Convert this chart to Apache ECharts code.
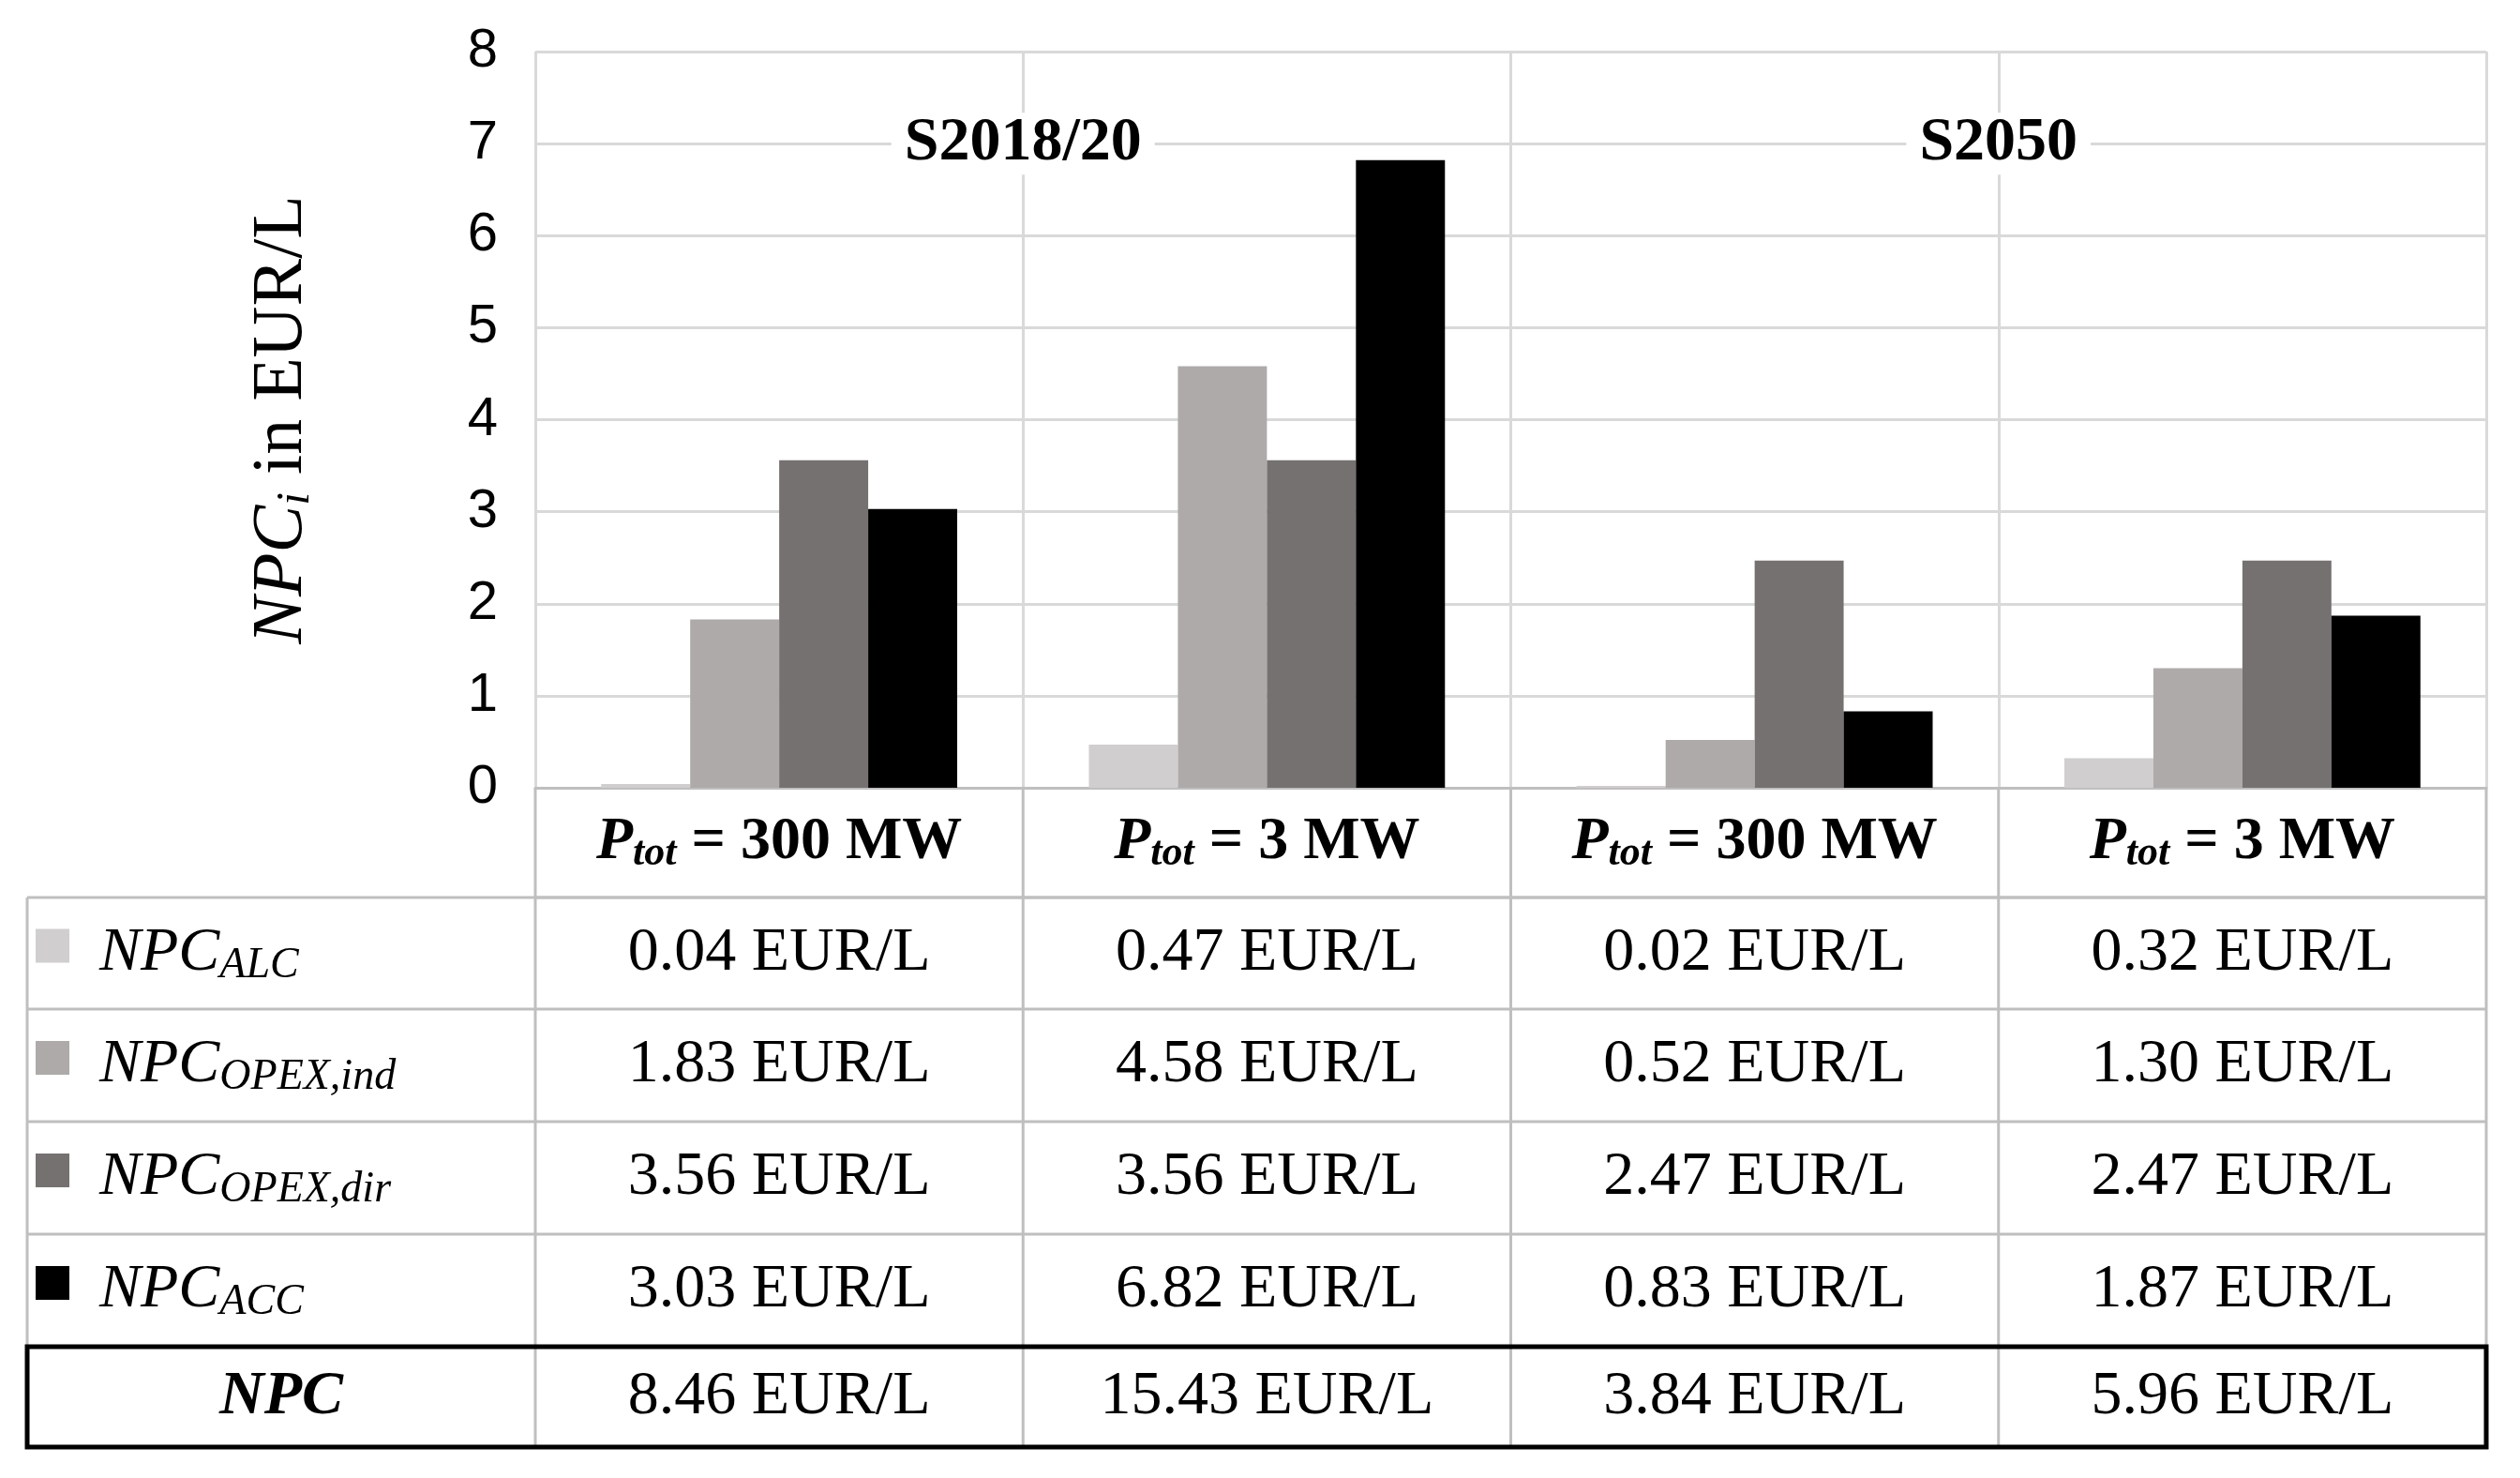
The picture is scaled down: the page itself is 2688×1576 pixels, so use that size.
<!DOCTYPE html>
<html><head><meta charset="utf-8">
<script src="https://cdn.jsdelivr.net/npm/echarts@6/dist/echarts.min.js"></script>
<style>html,body{margin:0;padding:0;background:#fff}#c{width:2688px;height:1576px}</style>
</head><body><div id="c"></div>
<script>
const categories = ['300 MW', '3 MW', '300 MW', '3 MW'];
const groups = ['S2018/20', 'S2050'];
const seriesNames = ['ALC', 'OPEX,ind', 'OPEX,dir', 'ACC'];
const ALC = [0.04, 0.47, 0.02, 0.32];
const OPEXind = [1.83, 4.58, 0.52, 1.30];
const OPEXdir = [3.56, 3.56, 2.47, 2.47];
const ACC = [3.03, 6.82, 0.83, 1.87];
const NPC = [8.46, 15.43, 3.84, 5.96];
const colors = ['#d0cece', '#aeaaaa', '#767171', '#000000'];
const values = [ALC, OPEXind, OPEXdir, ACC];

const chart = echarts.init(document.getElementById('c'));
const serif = '"Liberation Serif","DejaVu Serif",serif';
chart.setOption({
  animation: false,
  backgroundColor: '#fff',
  grid: {left: 571, right: 36, top: 55, bottom: 736},
  xAxis: {type: 'category', data: categories,
    axisLine: {show: true, lineStyle: {color: '#bfbfbf', width: 3}},
    axisTick: {show: false}, axisLabel: {show: false},
    splitLine: {show: true, lineStyle: {color: '#d9d9d9', width: 3}}},
  yAxis: {type: 'value', min: 0, max: 8, interval: 1,
    axisLine: {show: false}, axisTick: {show: false},
    axisLabel: {fontSize: 58, color: '#000', fontFamily: '"Liberation Sans",sans-serif', margin: 40},
    splitLine: {lineStyle: {color: '#d9d9d9', width: 3}},
    name: '{i|NPC}{s|i}{n| in EUR/L}', nameLocation: 'middle', nameGap: 230, nameRotate: 90,
    nameTextStyle: {rich: {
      i: {fontSize: 76, fontStyle: 'italic', fontFamily: serif, color: '#000'},
      s: {fontSize: 50, fontStyle: 'italic', fontFamily: serif, color: '#000', verticalAlign: 'bottom', padding: [30,0,0,0]},
      n: {fontSize: 76, fontFamily: serif, color: '#000'}}}},
  series: values.map((v, k) => ({type: 'bar', name: seriesNames[k], data: v,
    itemStyle: {color: colors[k]}, barGap: '0%', barCategoryGap: '27%'}))
});

const px = (i, y) => chart.convertToPixel({gridIndex: 0}, [i, y]);
const c0 = px(0, 0), c1 = px(1, 0);
const step = c1[0] - c0[0];
const bounds = [0,1,2,3,4].map(i => c0[0] - step/2 + i*step);
const y0 = c0[1];
const y7 = px(0, 7)[1];
const rows = [y0, 957, 1076, 1196, 1316, 1436, 1543];
const leftX = 29;
const g = [];
const line = (x1,y1,x2,y2,col,w) => g.push({type:'line', shape:{x1,y1,x2,y2}, style:{stroke:col, lineWidth:w}, z:10});
const gray = '#bfbfbf';
// group labels
groups.forEach((t, j) => g.push({type:'text', x: bounds[1 + 2*j], y: y7, z: 20,
  style:{text: t, fontSize: 66, fontWeight: 'bold', fontFamily: serif, fill:'#000',
  align:'center', verticalAlign:'middle', backgroundColor:'#fff', padding:[0,14]}}));
// table grid
bounds.forEach(x => line(x, y0, x, rows[6], gray, 3));
line(leftX, rows[1], leftX, rows[6], gray, 3);
line(bounds[0], rows[1], bounds[4], rows[1], gray, 3);
for (let r = 1; r <= 5; r++) line(leftX, rows[r], bounds[4], rows[r], gray, 3);
g.push({type:'rect', shape:{x:leftX, y:rows[5], width:bounds[4]-leftX, height:rows[6]-rows[5]},
  style:{fill:'none', stroke:'#000', lineWidth:5}, z:12});
const cellRich = {
  b: {fontSize: 64, fontWeight:'bold', fontStyle:'italic', fontFamily: serif, fill:'#000', color:'#000'},
  bs: {fontSize: 44, fontWeight:'bold', fontStyle:'italic', fontFamily: serif, color:'#000', verticalAlign:'bottom', padding:[24,0,0,0]},
  bn: {fontSize: 64, fontWeight:'bold', fontFamily: serif, color:'#000'},
  i: {fontSize: 66, fontStyle:'italic', fontFamily: serif, color:'#000'},
  is: {fontSize: 46, fontStyle:'italic', fontFamily: serif, color:'#000', verticalAlign:'bottom', padding:[26,0,0,0]}
};
// header
categories.forEach((c, i) => g.push({type:'text', x:(bounds[i]+bounds[i+1])/2, y:(rows[0]+rows[1])/2, z:20,
  style:{text:'{b|P}{bs|tot}{bn| = ' + c + '}', rich: cellRich, align:'center', verticalAlign:'middle'}}));
// rows
const fmt = v => v.toFixed(2) + ' EUR/L';
values.forEach((v, k) => {
  const yc = (rows[k+1] + rows[k+2]) / 2;
  g.push({type:'rect', shape:{x:38, y:yc-26, width:36, height:36}, style:{fill:colors[k]}, z:20});
  g.push({type:'text', x:106, y:yc, z:20, style:{text:'{i|NPC}{is|' + seriesNames[k].toUpperCase().replace('IND','ind').replace('DIR','dir') + '}', rich: cellRich, align:'left', verticalAlign:'middle'}});
  v.forEach((val, i) => g.push({type:'text', x:(bounds[i]+bounds[i+1])/2, y:yc, z:20,
    style:{text: fmt(val), fontSize: 66, fontFamily: serif, fill:'#000', align:'center', verticalAlign:'middle'}}));
});
const yn = (rows[5] + rows[6]) / 2;
g.push({type:'text', x:(leftX+bounds[0])/2, y:yn, z:20, style:{text:'NPC', fontSize:66, fontWeight:'bold', fontStyle:'italic', fontFamily: serif, fill:'#000', align:'center', verticalAlign:'middle'}});
NPC.forEach((val, i) => g.push({type:'text', x:(bounds[i]+bounds[i+1])/2, y:yn, z:20,
  style:{text: fmt(val), fontSize: 66, fontFamily: serif, fill:'#000', align:'center', verticalAlign:'middle'}}));
chart.setOption({graphic: g});
</script></body></html>
